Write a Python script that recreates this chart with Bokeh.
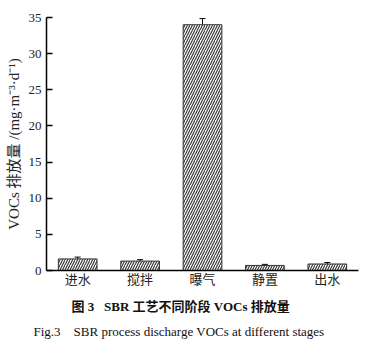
from bokeh.plotting import figure
from bokeh.models import ColumnDataSource, Whisker, TeeHead, Title, FactorRange
from bokeh.embed import file_html
from bokeh.resources import INLINE

stages = ["进水", "搅拌", "曝气", "静置", "出水"]
values = [1.6, 1.3, 34.0, 0.7, 0.9]
errors = [0.25, 0.2, 0.85, 0.15, 0.2]

SERIF = "Liberation Serif, Noto Sans CJK SC"
NB = "\u00a0"

src = ColumnDataSource(data=dict(
    x=stages, top=values,
    upper=[v + e for v, e in zip(values, errors)],
    lower=[v - e for v, e in zip(values, errors)],
))

p = figure(width=368, height=352, x_range=FactorRange(*stages, range_padding=0),
           y_range=(0, 35), output_backend="svg", toolbar_location=None,
           min_border_left=46, min_border_right=10, min_border_top=17, min_border_bottom=82)
p.x_range.range_padding = 0

p.vbar(x="x", top="top", width=0.62, source=src, fill_color="white",
       line_color="#333333", line_width=1,
       hatch_pattern="/", hatch_color="#3a3a3a", hatch_scale=5, hatch_weight=1.2)

w = Whisker(base="x", upper="upper", lower="lower", source=src,
            line_color="black", line_width=1)
w.upper_head = TeeHead(size=6, line_color="black", line_width=1)
w.lower_head = TeeHead(size=6, line_color="black", line_width=1)
p.add_layout(w)

p.xgrid.visible = False
p.ygrid.visible = False
p.outline_line_color = None
p.background_fill_color = "white"
p.border_fill_color = "white"

p.yaxis.ticker = [0, 5, 10, 15, 20, 25, 30, 35]
p.yaxis.minor_tick_line_color = "black"
p.yaxis.major_tick_in = 6
p.yaxis.major_tick_out = 0
p.yaxis.minor_tick_in = 4
p.yaxis.minor_tick_out = 0
p.yaxis.axis_line_width = 1.5
p.yaxis.major_tick_line_width = 1.5
p.yaxis.minor_tick_line_width = 1.5
p.yaxis.major_label_text_font = SERIF
p.yaxis.major_label_text_font_size = "13px"
p.yaxis.major_label_text_color = "#222222"
p.yaxis.major_label_standoff = 5
p.yaxis.axis_label = "VOCs 排放量 /(mg·m⁻³·d⁻¹)"
p.yaxis.axis_label_text_font = SERIF
p.yaxis.axis_label_text_font_style = "normal"
p.yaxis.axis_label_text_font_size = "15px"
p.yaxis.axis_label_text_color = "#222222"
p.yaxis.axis_label_standoff = 4

p.xaxis.major_tick_line_color = None
p.xaxis.minor_tick_line_color = None
p.xaxis.axis_line_width = 1.5
p.xaxis.major_label_text_font = SERIF
p.xaxis.major_label_text_font_size = "13px"
p.xaxis.major_label_text_color = "#222222"
p.xaxis.major_label_standoff = -5

cap1 = Title(text="图 3" + NB * 3 + "SBR 工艺不同阶段 VOCs 排放量", align="left",
             offset=25, text_font=SERIF, text_font_style="bold",
             text_font_size="13px", text_color="#111111", standoff=15)
cap2 = Title(text="Fig.3" + NB * 4 + "SBR process discharge VOCs at different stages",
             align="left", offset=-13, text_font=SERIF, text_font_style="normal",
             text_font_size="13px", text_color="#111111", standoff=0)
p.add_layout(cap1, "below")
p.add_layout(cap2, "below")

open("out.html", "w").write(file_html(p, INLINE))
